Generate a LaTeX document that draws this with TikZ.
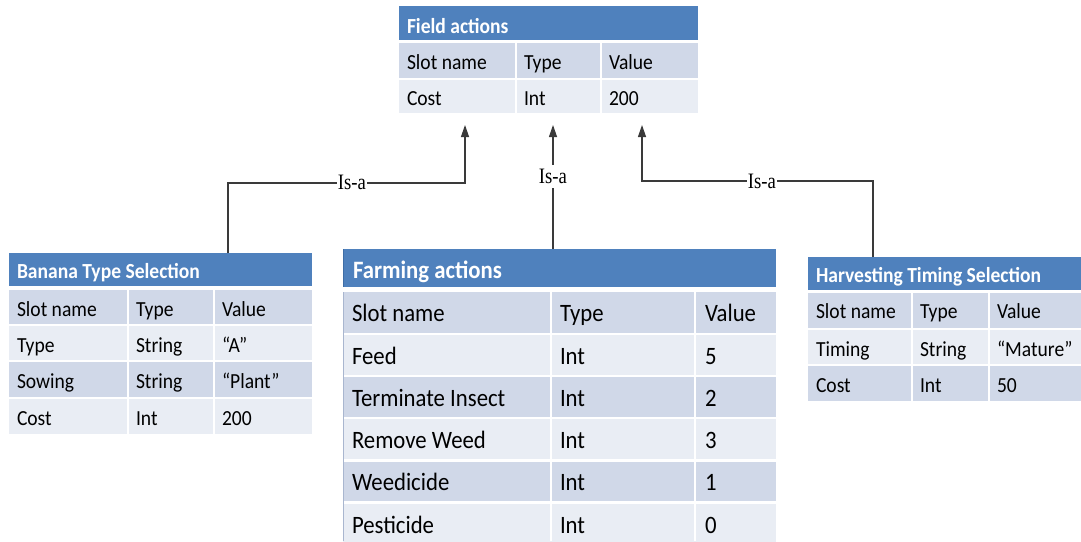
\documentclass[tikz,border=0pt]{standalone}
\usepackage{fontspec}
\setmainfont{Carlito}[FakeStretch=0.91]
\newfontfamily\isafont{Liberation Serif}[FakeStretch=0.85]
\usetikzlibrary{arrows.meta,calc}
\definecolor{hdrblue}{HTML}{4F81BD}
\definecolor{rowdark}{HTML}{D0D8E8}
\definecolor{rowlight}{HTML}{E9EDF4}
\definecolor{linkgray}{HTML}{3A3A3A}
\definecolor{edgeblue}{HTML}{3E6DA6}
\definecolor{edgegray}{HTML}{A9B6CF}

\tikzset{
  rowbox/.style={anchor=north west, inner sep=0, outer sep=0},
  txts/.style={anchor=base west, inner sep=0, outer sep=0, font=\fontsize{21.5}{24}\selectfont},
  txtl/.style={anchor=base west, inner sep=0, outer sep=0, font=\fontsize{25}{28}\selectfont},
  hdrs/.style={txts, text=white, font=\bfseries\fontsize{21.5}{24}\selectfont},
  hdrl/.style={txtl, text=white, font=\bfseries\fontsize{25}{28}\selectfont},
  divider/.style={white, line width=2.2pt},
  isa/.style={linkgray, line width=1.2pt, -{Triangle[length=12pt,width=8pt]}},
  isalbl/.style={anchor=base, fill=white, inner xsep=0.5pt, inner ysep=4pt,
                 font=\isafont\fontsize{22}{24}\selectfont}
}

% a filled table band: name, x, y, width, height, colour
\newcommand\band[6]{\node[rowbox, fill=#6, minimum width=#4, minimum height=#5] (#1) at (#2,#3) {};}

\begin{document}
\begin{tikzpicture}[x=1pt,y=-1pt]
\useasboundingbox (0,0) rectangle (1081,541);

% ---------- Field actions ----------
\band{field}{399}{6}{299}{34}{hdrblue}
\band{field-r1}{399}{43}{299}{35}{rowdark}
\band{field-r2}{399}{80}{299}{33}{rowlight}
\draw[divider] (516,43) -- (516,113);
\draw[divider] (601,43) -- (601,113);
\node[hdrs] (field-t) at (407,33) {Field actions};
\node[txts] (f11) at (407,69.5) {Slot name};
\node[txts] (f12) at (524,69.5) {Type};
\node[txts] (f13) at (609,69.5) {Value};
\node[txts] (f21) at (407,105.5) {Cost};
\node[txts] (f22) at (524,105.5) {Int};
\node[txts] (f23) at (609,105.5) {200};

% ---------- Banana Type Selection ----------
\band{bts}{9}{253}{303}{33}{hdrblue}
\band{bts-r1}{9}{290}{303}{34}{rowdark}
\band{bts-r2}{9}{326}{303}{34}{rowlight}
\band{bts-r3}{9}{362}{303}{35}{rowdark}
\band{bts-r4}{9}{399}{303}{35}{rowlight}
\draw[divider] (128,290) -- (128,434);
\draw[divider] (214,290) -- (214,434);
\node[hdrs] (bts-t) at (17,278) {Banana Type Selection};
\node[txts] (b11) at (17,316) {Slot name};
\node[txts] (b12) at (136,316) {Type};
\node[txts] (b13) at (222,316) {Value};
\node[txts] (b21) at (17,352.5) {Type};
\node[txts] (b22) at (136,352.5) {String};
\node[txts] (b23) at (222,352.5) {“A”};
\node[txts] (b31) at (17,388.5) {Sowing};
\node[txts] (b32) at (136,388.5) {String};
\node[txts] (b33) at (222,388.5) {“Plant”};
\node[txts] (b41) at (17,425.5) {Cost};
\node[txts] (b42) at (136,425.5) {Int};
\node[txts] (b43) at (222,425.5) {200};

% ---------- Farming actions ----------
\band{farm}{343}{249}{433}{38}{hdrblue}
\band{farm-r1}{343}{292}{433}{41}{rowdark}
\band{farm-r2}{343}{335}{433}{40}{rowlight}
\band{farm-r3}{343}{377}{433}{40}{rowdark}
\band{farm-r4}{343}{419}{433}{40}{rowlight}
\band{farm-r5}{343}{462}{433}{39}{rowdark}
\band{farm-r6}{343}{504}{433}{40}{rowlight}
\draw[divider] (551,292) -- (551,541);
\draw[divider] (695,292) -- (695,541);
\draw[edgeblue, line width=1.4pt] (343.7,249) -- (343.7,287);
\draw[edgegray, line width=1.4pt] (343.7,292) -- (343.7,541);
\node[hdrl] (farm-t) at (353,278) {Farming actions};
\node[txtl] (m11) at (352,321.5) {Slot name};
\node[txtl] (m12) at (560,321.5) {Type};
\node[txtl] (m13) at (705,321.5) {Value};
\node[txtl] (m21) at (352,364) {Feed};
\node[txtl] (m22) at (560,364) {Int};
\node[txtl] (m23) at (705,364) {5};
\node[txtl] (m31) at (352,406) {Terminate Insect};
\node[txtl] (m32) at (560,406) {Int};
\node[txtl] (m33) at (705,406) {2};
\node[txtl] (m41) at (352,448) {Remove Weed};
\node[txtl] (m42) at (560,448) {Int};
\node[txtl] (m43) at (705,448) {3};
\node[txtl] (m51) at (352,490.5) {Weedicide};
\node[txtl] (m52) at (560,490.5) {Int};
\node[txtl] (m53) at (705,490.5) {1};
\node[txtl] (m61) at (352,533) {Pesticide};
\node[txtl] (m62) at (560,533) {Int};
\node[txtl] (m63) at (705,533) {0};

% ---------- Harvesting Timing Selection ----------
\band{hts}{808}{257}{273}{33}{hdrblue}
\band{hts-r1}{808}{293}{273}{35}{rowdark}
\band{hts-r2}{808}{330}{273}{34}{rowlight}
\band{hts-r3}{808}{366}{273}{35}{rowdark}
\draw[divider] (912,293) -- (912,401);
\draw[divider] (989,293) -- (989,401);
\node[hdrs] (hts-t) at (816,282) {Harvesting Timing Selection};
\node[txts] (h11) at (816,318.5) {Slot name};
\node[txts] (h12) at (920,318.5) {Type};
\node[txts] (h13) at (997,318.5) {Value};
\node[txts] (h21) at (816,356) {Timing};
\node[txts] (h22) at (920,356) {String};
\node[txts] (h23) at (997,356) {“Mature”};
\node[txts] (h31) at (816,392.5) {Cost};
\node[txts] (h32) at (920,392.5) {Int};
\node[txts] (h33) at (997,392.5) {50};

% ---------- Is-a links ----------
\coordinate (tipL) at (465,125);
\coordinate (tipM) at (553,125);
\coordinate (tipR) at (642,125);
\draw[isa] ([xshift=219pt]bts.north west) |- ($(tipL)+(0,58)$) -- (tipL);
\draw[isa] ([xshift=210pt]farm.north west) -- (tipM);
\draw[isa] ([xshift=65pt]hts.north west) |- ($(tipR)+(0,56)$) -- (tipR);
\node[isalbl] (isaL) at (352,189) {Is-a};
\node[isalbl] (isaM) at (553,183.5) {Is-a};
\node[isalbl] (isaR) at (762,188) {Is-a};

\end{tikzpicture}
\end{document}
